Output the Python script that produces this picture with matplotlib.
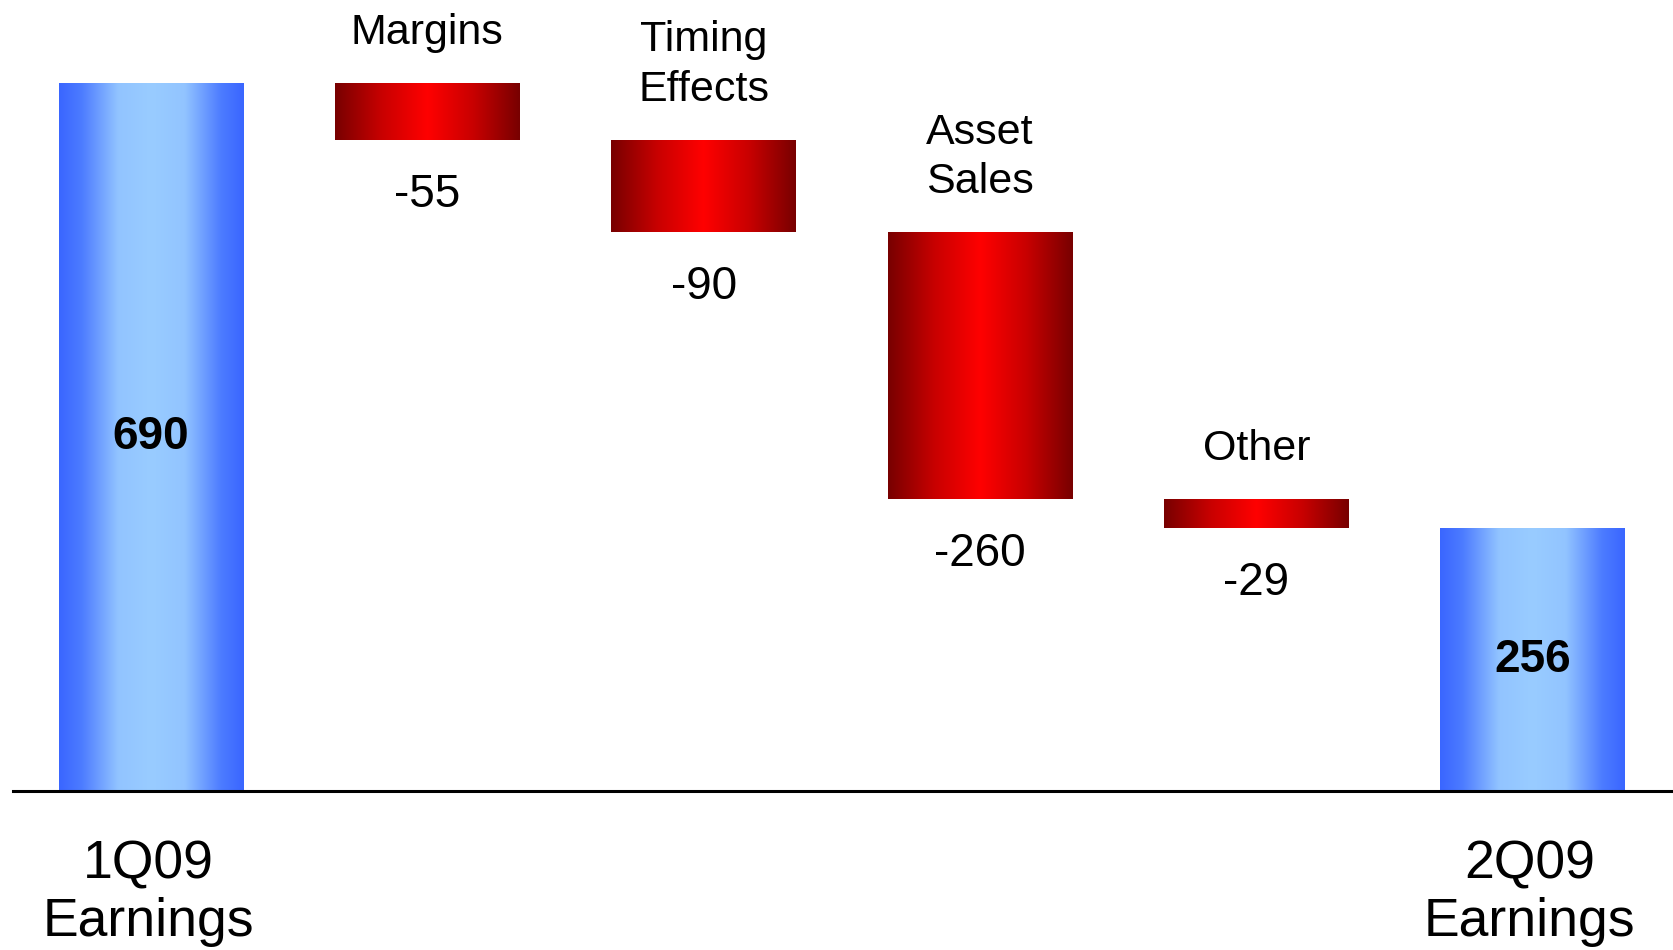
import numpy as np
import matplotlib
matplotlib.use("Agg")
import matplotlib.pyplot as plt
from matplotlib.colors import LinearSegmentedColormap

plt.rcParams['font.family'] = ['Liberation Sans', 'DejaVu Sans']

# Earnings bridge from 1Q09 to 2Q09
categories = ["1Q09\nEarnings", "Margins", "Timing\nEffects", "Asset\nSales", "Other", "2Q09\nEarnings"]
start_value = 690
changes = [-55, -90, -260, -29]
end_value = 256
value_labels = ["690", "-55", "-90", "-260", "-29", "256"]

# Bar extents: totals rest on zero, changes float on the running total
bottoms, tops = [0], [start_value]
running = start_value
for c in changes:
    new = running + c
    bottoms.append(min(running, new))
    tops.append(max(running, new))
    running = new
bottoms.append(0)
tops.append(end_value)
is_total = [True] + [False] * len(changes) + [True]

blue_cmap = LinearSegmentedColormap.from_list(
    "blue_cyl",
    [(0.0, "#3A66FF"), (0.12, "#4C7BFF"), (0.32, "#92C4FF"), (0.5, "#99CCFF"),
     (0.68, "#92C4FF"), (0.88, "#4C7BFF"), (1.0, "#3A66FF")])
red_cmap = LinearSegmentedColormap.from_list(
    "red_cyl",
    [(0.0, "#780000"), (0.25, "#C80000"), (0.5, "#FF0000"), (0.75, "#C80000"), (1.0, "#780000")])

fig = plt.figure(figsize=(16.73, 9.5), dpi=100)
ax = fig.add_axes([0.0077, 1 - 741 / 890, 1 - 0.0077, 741 / 890])

x = np.arange(len(categories))
width = 0.668
grad = np.linspace(0, 1, 256).reshape(1, -1)

bars = ax.bar(x, np.array(tops) - np.array(bottoms), bottom=bottoms, width=width,
              facecolor="none", edgecolor="none")
for i, patch in enumerate(bars):
    cmap = blue_cmap if is_total[i] else red_cmap
    im = ax.imshow(grad, cmap=cmap, aspect="auto",
                   extent=(x[i] - width / 2, x[i] + width / 2, bottoms[i], tops[i]),
                   interpolation="bicubic", zorder=2)
    im.set_clip_path(patch)

# Baseline
ax.axhline(0, color="black", linewidth=2.2, clip_on=False, zorder=3)

ax.set_xlim(-0.5, 5.508)
ax.set_ylim(0, 771.2)
ax.axis("off")

for i in range(len(categories)):
    if is_total[i]:
        # value inside the bar, category under the baseline
        ax.text(x[i], (bottoms[i] + tops[i]) / 2, value_labels[i], ha="center", va="center",
                fontsize=33, fontweight="bold", color="black", zorder=4)
        ax.annotate(categories[i], (x[i], 0), xytext=(-3, -49), textcoords="offset pixels",
                    ha="center", va="top", fontsize=38.5, linespacing=1.17,
                    annotation_clip=False)
    else:
        ax.annotate(categories[i], (x[i], tops[i]), xytext=(0, 30), textcoords="offset pixels",
                    ha="center", va="bottom", fontsize=31, linespacing=1.3,
                    annotation_clip=False)
        ax.annotate(value_labels[i], (x[i], bottoms[i]), xytext=(0, -55),
                    textcoords="offset pixels", ha="center", va="center", fontsize=33,
                    annotation_clip=False)

fig.savefig("out.png", dpi=100, facecolor="white")
